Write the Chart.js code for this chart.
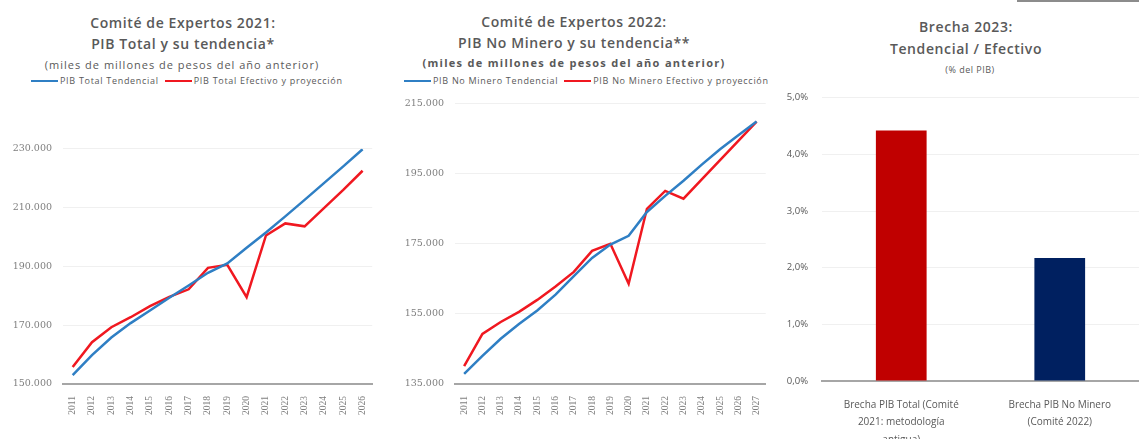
<!DOCTYPE html>
<html>
<head>
<meta charset="utf-8">
<script src="https://cdn.jsdelivr.net/npm/chart.js@4.4.1/dist/chart.umd.min.js"></script>
<style>
  body { margin: 0; width: 1139px; height: 439px; overflow: hidden; position: relative; background: #fff; font-family: 'Open Sans', Lato, sans-serif; color: #595959; }
  .title { position: absolute; text-align: center; font-weight: 600; font-size: 14px; letter-spacing: 0.6px; line-height: 21px; white-space: nowrap; }
  .sub { position: absolute; text-align: center; font-size: 11px; letter-spacing: 1px; line-height: 14px; white-space: nowrap; }
  .legend { position: absolute; font-size: 9px; letter-spacing: 0.7px; line-height: 10px; white-space: nowrap; display: flex; align-items: center; }
  .legend i { display: inline-block; width: 27px; height: 2px; margin-right: 2px; }
  .legend span { margin-right: 6px; }
  canvas { position: absolute; }
  #corner { position: absolute; left: 1017px; top: 0; width: 122px; height: 2px; background: #8c8c8c; }
</style>
</head>
<body>
<div id="corner"></div>

<div class="title" style="left:0;width:366px;top:12px">Comité de Expertos 2021:<br>PIB Total y su tendencia*</div>
<div class="sub" style="left:0;width:364px;top:58px">(miles de millones de pesos del año anterior)</div>
<div class="legend" style="left:31px;top:76px"><i style="background:#2f7fc4"></i><span>PIB Total Tendencial</span><i style="background:#f01820"></i><span>PIB Total Efectivo y proyección</span></div>

<div class="title" style="left:380px;width:388px;top:11px">Comité de Expertos 2022:<br>PIB No Minero y su tendencia**</div>
<div class="sub" style="left:380px;width:388px;top:56px;font-weight:bold;letter-spacing:1.3px">(miles de millones de pesos del año anterior)</div>
<div class="legend" style="left:404px;top:76px"><i style="background:#2f7fc4"></i><span>PIB No Minero Tendencial</span><i style="background:#f01820"></i><span>PIB No Minero Efectivo y proyección</span></div>

<div class="title" style="left:821px;width:290px;top:16px;line-height:22px">Brecha 2023:<br>Tendencial / Efectivo</div>
<div class="sub" style="left:825px;width:290px;top:63px;font-size:9px;letter-spacing:0.5px">(% del PIB)</div>

<canvas id="pibTotal" width="378" height="307" style="left:0;top:132px"></canvas>
<canvas id="pibNoMinero" width="392" height="352" style="left:380px;top:87px"></canvas>
<canvas id="brecha" width="379" height="361" style="left:760px;top:78px"></canvas>

<script>
// PIB Total (Comité 2021), miles de millones de pesos
const yearsTotal = ['2011','2012','2013','2014','2015','2016','2017','2018','2019','2020','2021','2022','2023','2024','2025','2026'];
const totalTendencial = [153000,159800,165800,170700,175000,179300,183500,187800,191000,196300,201500,207000,212600,218300,224000,229800];
const totalEfectivo = [155800,164200,169300,172700,176500,179600,182200,189500,190500,179500,200500,204600,203600,209800,216000,222500];

// PIB No Minero (Comité 2022)
const yearsNoMinero = ['2011','2012','2013','2014','2015','2016','2017','2018','2019','2020','2021','2022','2023','2024','2025','2026','2027'];
const noMineroTendencial = [137900,143000,147900,152100,156000,160500,165800,171000,174800,177300,184100,188700,193000,197600,202000,206000,209900];
const noMineroEfectivo = [140100,149300,152700,155600,159000,162800,167000,173000,175000,163600,185000,190100,187900,193400,198900,204400,209900];

// Brecha 2023, % del PIB
const brechaLabels = [['Brecha PIB Total (Comité', '2021: metodología', 'antigua)'], ['Brecha PIB No Minero', '(Comité 2022)']];
const brechaValues = [4.42, 2.17];

const BLUE = '#2f7fc4';
const RED = '#f01820';
const GREY = '#595959';

Chart.defaults.animation = false;
Chart.defaults.responsive = false;
Chart.defaults.devicePixelRatio = 1;
Chart.defaults.plugins.legend.display = false;
Chart.defaults.plugins.tooltip.enabled = false;
Chart.defaults.color = GREY;

const miles = v => String(v).replace(/\B(?=(\d{3})+(?!\d))/g, '.');

function lineChart(id, labels, tend, efec, min, max, axisWidth) {
  return new Chart(document.getElementById(id), {
    type: 'line',
    data: {
      labels: labels,
      datasets: [
        { data: tend, borderColor: BLUE, borderWidth: 2.5, pointRadius: 0, tension: 0 },
        { data: efec, borderColor: RED, borderWidth: 2.5, pointRadius: 0, tension: 0 }
      ]
    },
    options: {
      layout: { padding: { top: 10, right: 0, left: 0, bottom: 0 } },
      scales: {
        x: {
          offset: true,
          grid: { display: false },
          border: { color: '#a6a6a6', width: 2 },
          ticks: { minRotation: 90, maxRotation: 90, autoSkip: false, padding: 4, font: { family: 'Liberation Serif', size: 9.5 }, color: '#7f7f7f' },
          afterFit: s => { s.height = 55; }
        },
        y: {
          min: min,
          max: max,
          grid: { color: '#f0f0f0', drawTicks: false },
          border: { display: false },
          ticks: { stepSize: 20000, padding: 11, callback: miles, font: { family: 'DejaVu Serif', size: 9.5 }, color: '#7f7f7f' },
          afterFit: s => { s.width = axisWidth; }
        }
      }
    }
  });
}

lineChart('pibTotal', yearsTotal, totalTendencial, totalEfectivo, 150000, 230000, 63);
lineChart('pibNoMinero', yearsNoMinero, noMineroTendencial, noMineroEfectivo, 135000, 215000, 75);

new Chart(document.getElementById('brecha'), {
  type: 'bar',
  data: {
    labels: brechaLabels,
    datasets: [{
      data: brechaValues,
      backgroundColor: ['#c00000', '#002060'],
      barPercentage: 0.64,
      categoryPercentage: 0.5
    }]
  },
  options: {
    layout: { padding: { top: 10, right: 0, left: 0, bottom: 0 } },
    scales: {
      x: {
        grid: { display: false },
        border: { color: '#a6a6a6', width: 2 },
        ticks: { padding: 7, font: { family: 'Open Sans', size: 10, lineHeight: 1.75 }, color: GREY },
        afterFit: s => { s.height = 58; }
      },
      y: {
        min: 0,
        max: 5,
        grid: { color: '#f0f0f0', drawTicks: false },
        border: { display: false },
        ticks: { stepSize: 1, padding: 14, callback: v => v.toFixed(1).replace('.', ',') + '%', font: { family: 'Open Sans', size: 9.5 }, color: GREY },
        afterFit: s => { s.width = 62; }
      }
    }
  }
});
</script>
</body>
</html>
